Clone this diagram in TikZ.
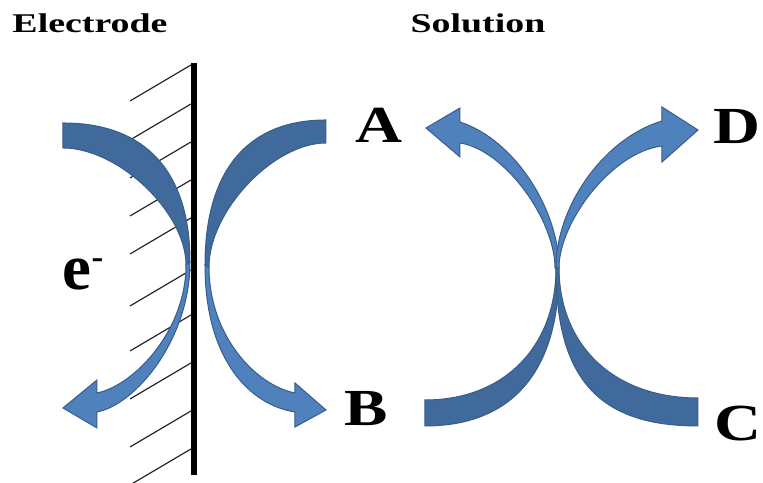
\documentclass[tikz,border=0pt]{standalone}
\usepackage{fontspec}
\setmainfont{Liberation Serif}
\newfontfamily\wideserif[FakeStretch=1.4]{Liberation Serif}
\newfontfamily\letterserif[FakeStretch=1.25]{Liberation Serif}
\usepackage{tikz}
\usetikzlibrary{positioning}
\definecolor{bandback}{RGB}{64,106,155}
\definecolor{bandfront}{RGB}{79,129,189}
\definecolor{bandline}{RGB}{56,93,138}

\begin{document}
\begin{tikzpicture}[x=0.1mm, y=-0.1mm, every node/.style={inner sep=0pt}]
\tikzset{hatch/.style={line width=0.12mm, black!85}}
\tikzset{wall/.style={line width=0.6mm}}
\tikzset{backband/.style={fill=bandback, draw=bandline, line width=0.1mm}}
\tikzset{frontband/.style={fill=bandfront, draw=bandline, line width=0.1mm}}
\tikzset{heading/.style={font=\wideserif\bfseries\fontsize{7.7}{9}\selectfont, anchor=base}}
\tikzset{species/.style={font=\letterserif\bfseries\fontsize{14.8}{17}\selectfont, anchor=base}}
\useasboundingbox (0,0) rectangle (763,483);

% Headings
\node[heading] (electrodelab) at (90,33) {Electrode};
\node[heading] (solutionlab) at (478,33) {Solution};

% Electrode surface with hatching
\foreach \y in {65,104,142,180,218,270,315,363,411,449}
  \draw[hatch] (191,\y) -- (130,\y+36);

% Electron transfer arrows at the electrode
\draw[backband] (63,123) .. controls (145.6,123) and (190,171.7) .. (190,262)
  -- (186,265) .. controls (186,212.4) and (118.4,148) .. (63,148) -- cycle;
\draw[frontband] (190,262) .. controls (190,340) and (135,405) .. (97,412)
  -- (97,428) -- (63,408) -- (97,380) -- (97,393)
  .. controls (135,385) and (186,330) .. (186,265) -- cycle;
\draw[backband] (326,120) .. controls (247.4,120) and (205,170.8) .. (205,265)
  -- (209,267) .. controls (209,211.2) and (273.4,143) .. (326,143) -- cycle;
\draw[frontband] (205,265) .. controls (205,360) and (250,405) .. (295,412)
  -- (295,427) -- (326,410) -- (295,383) -- (295,393)
  .. controls (255,385) and (209,335) .. (209,267) -- cycle;
\draw[wall] (194.5,63) -- (194.5,475);

% Crossing arrows in solution
\draw[backband] (425,400) .. controls (503.6,400) and (556,347.2) .. (556,268)
  -- (559,270) .. controls (559,371.4) and (512.1,426) .. (425,426) -- cycle;
\draw[backband] (698,398) .. controls (614,398) and (559,345.6) .. (559,267)
  -- (556,268) .. controls (556,378.6) and (598.6,426) .. (698,426) -- cycle;
\draw[frontband] (559,268) .. controls (559,210) and (515,140) .. (460,122)
  -- (460,108) -- (426,128) -- (460,157) -- (460,143)
  .. controls (505,150) and (555,220) .. (555,268) -- cycle;
\draw[frontband] (556,268) .. controls (556,205) and (605,138) .. (662,121)
  -- (662,107) -- (698,130) -- (662,162) -- (662,146)
  .. controls (612,152) and (559,222) .. (559,268) -- cycle;

% Labels
\node[species] (labA) at (379,143) {A};
\node[species] (labB) at (366,426) {B};
\node[species] (labC) at (738,441) {C};
\node[species] (labD) at (737,144) {D};
\node[font=\bfseries\fontsize{18.5}{20}\selectfont, anchor=base west] (labe) at (62,290)
  {e\raisebox{6pt}{\fontsize{10}{10}\selectfont -}};
\end{tikzpicture}
\end{document}
